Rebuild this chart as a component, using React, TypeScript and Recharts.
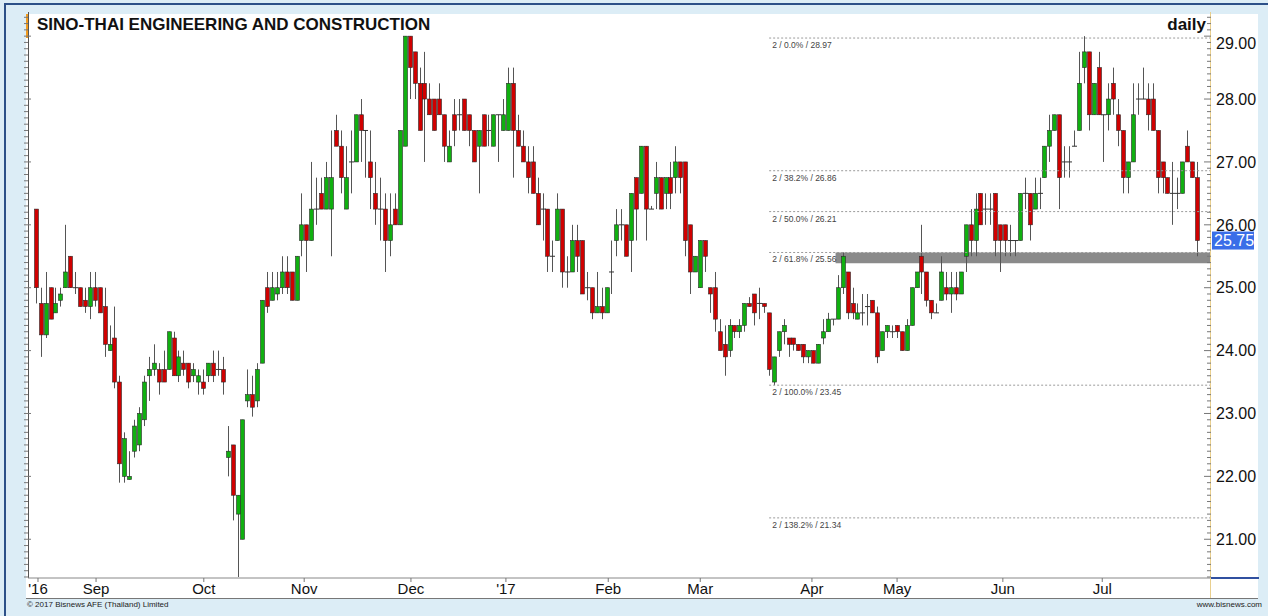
import React from "react";
import { Bar, ComposedChart, ReferenceArea, ReferenceLine, XAxis, YAxis } from "recharts";

// daily OHLC, mid-Aug 2016 .. late Jul 2017
const opens = [
  26.25, 24.75, 24.25, 25.0, 24.6, 24.8, 25.0, 25.5, 25.0, 25.0, 24.8, 24.7, 25.0, 25.0, 24.7, 24.0, 24.2, 23.5, 22.0, 21.95,
  22.4, 22.5, 22.9, 23.6, 23.7, 23.7, 23.7, 23.7, 24.2, 23.6, 23.8, 23.8, 23.6, 23.5, 23.5, 23.6, 23.8, 23.7, 23.7, 22.3,
  22.5, 21.4, 21.0, 23.2, 23.3, 23.2, 23.8, 25.0, 24.8, 24.9, 25.0, 25.25, 25.25, 24.8, 25.75, 26.0, 25.75, 26.25, 26.5, 26.25,
  26.25, 27.5, 27.25, 26.25, 27.0, 27.0, 27.75, 27.5, 27.0, 26.5, 26.25, 26.25, 25.75, 26.25, 26.0, 27.25, 29.0, 28.75, 28.25, 28.25,
  28.0, 28.0, 28.0, 27.75, 27.0, 27.75, 27.75, 28.0, 27.75, 27.5, 27.25, 27.75, 27.5, 27.25, 27.75, 27.5, 27.5, 28.25, 27.5, 27.25,
  27.0, 27.0, 26.5, 26.25, 26.25, 25.5, 25.75, 26.25, 25.25, 25.25, 25.75, 25.75, 25.0, 25.0, 24.6, 24.7, 24.6, 25.25, 25.75, 26.0,
  26.0, 25.75, 26.75, 26.5, 27.25, 26.25, 26.5, 26.75, 26.5, 26.75, 26.75, 27.0, 27.0, 26.0, 25.25, 25.0, 25.75, 25.0, 25.0, 24.3,
  24.1, 24.0, 24.4, 24.3, 24.4, 24.75, 24.9, 24.75, 24.75, 24.6, 23.5, 24.0, 24.3, 24.2, 24.2, 24.1, 24.1, 23.9, 24.0, 23.8,
  24.2, 24.3, 24.5, 24.5, 25.0, 25.25, 24.75, 24.5, 24.6, 24.7, 24.8, 24.6, 24.0, 24.3, 24.3, 24.4, 24.3, 24.0, 24.4, 25.0,
  25.5, 25.25, 24.8, 24.6, 24.8, 25.0, 24.9, 25.0, 24.9, 25.5, 26.0, 25.75, 26.5, 26.25, 26.25, 26.5, 26.0, 26.0, 25.75, 25.75,
  25.75, 26.5, 26.5, 26.25, 26.5, 26.75, 27.25, 27.5, 27.75, 27.0, 27.0, 27.25, 27.5, 28.5, 28.75, 27.75, 28.5, 27.75, 27.75, 28.25,
  27.75, 27.5, 26.75, 27.0, 28.0, 28.0, 28.0, 28.0, 27.5, 27.0, 26.75, 26.5, 26.5, 26.5, 27.25, 27.0, 26.75,
];
const highs = [
  26.25, 25.0, 25.25, 25.0, 25.0, 25.0, 26.0, 25.5, 25.25, 25.0, 25.0, 25.25, 25.25, 25.0, 25.0, 24.4, 24.7, 23.6, 22.7, 22.4,
  22.9, 23.1, 23.6, 23.9, 24.1, 23.8, 24.0, 24.3, 24.3, 24.0, 24.0, 23.8, 23.8, 23.7, 23.7, 23.8, 24.0, 24.0, 23.9, 22.8,
  22.5, 21.7, 22.9, 23.7, 23.6, 23.8, 24.8, 25.25, 25.25, 25.25, 25.5, 25.5, 25.25, 25.5, 26.5, 26.0, 27.0, 26.75, 26.75, 27.0,
  27.5, 27.75, 27.5, 27.25, 27.5, 27.75, 28.0, 27.5, 27.5, 27.0, 26.75, 26.5, 26.5, 26.5, 27.5, 29.0, 29.0, 28.75, 28.5, 28.75,
  28.25, 28.0, 28.25, 27.75, 27.5, 28.0, 28.0, 28.0, 27.75, 27.5, 27.5, 27.75, 27.75, 27.75, 27.75, 28.0, 28.5, 28.5, 27.75, 27.5,
  27.25, 27.25, 26.75, 26.5, 26.25, 25.75, 26.5, 26.25, 25.5, 26.0, 26.0, 25.75, 25.25, 25.0, 25.25, 25.0, 25.0, 25.75, 26.25, 26.25,
  26.0, 26.5, 26.75, 27.25, 27.25, 26.3, 27.0, 26.75, 26.75, 27.0, 27.25, 27.0, 27.0, 26.0, 25.5, 25.75, 25.75, 25.0, 25.25, 24.5,
  24.4, 24.5, 24.4, 24.5, 24.75, 24.85, 24.9, 25.0, 24.75, 24.6, 23.9, 24.3, 24.5, 24.2, 24.2, 24.1, 24.1, 24.0, 24.0, 24.1,
  24.5, 24.6, 24.5, 25.2, 25.56, 25.25, 25.0, 24.75, 24.9, 24.9, 24.8, 24.7, 24.3, 24.4, 24.4, 24.4, 24.3, 24.5, 25.0, 25.25,
  26.0, 25.25, 24.8, 24.75, 25.5, 25.25, 25.25, 25.25, 25.25, 26.0, 26.25, 26.5, 26.5, 26.5, 26.5, 26.5, 26.0, 26.0, 26.0, 25.75,
  26.5, 26.75, 26.5, 26.75, 26.75, 27.25, 27.75, 27.75, 27.75, 27.25, 27.25, 27.5, 28.75, 29.0, 28.75, 28.25, 28.75, 27.75, 28.25, 28.5,
  28.0, 27.5, 27.0, 28.25, 28.25, 28.5, 28.25, 28.25, 27.5, 27.0, 26.75, 27.0, 26.75, 27.0, 27.5, 27.0, 27.0,
];
const lows = [
  24.75, 23.9, 24.2, 24.5, 24.6, 24.7, 25.0, 25.0, 24.9, 24.7, 24.6, 24.5, 24.7, 24.6, 23.9, 24.0, 23.4, 21.9, 21.9, 21.95,
  22.3, 22.4, 22.8, 23.2, 23.6, 23.3, 23.5, 23.7, 23.6, 23.5, 23.6, 23.4, 23.5, 23.3, 23.3, 23.5, 23.5, 23.6, 23.3, 22.0,
  21.3, 20.4, 21.0, 23.1, 22.95, 23.1, 23.8, 24.6, 24.8, 24.8, 24.9, 24.9, 24.8, 24.8, 25.5, 25.25, 25.75, 26.0, 26.25, 26.25,
  25.5, 27.25, 26.5, 26.25, 26.5, 27.0, 27.0, 26.75, 26.25, 26.0, 25.75, 25.25, 25.5, 26.0, 26.0, 27.25, 28.0, 28.0, 27.5, 27.0,
  27.75, 27.5, 27.75, 27.0, 27.0, 27.25, 27.5, 27.5, 27.25, 27.0, 26.5, 27.25, 27.25, 27.25, 27.0, 27.5, 27.5, 26.75, 27.25, 27.0,
  26.5, 26.5, 26.0, 25.75, 25.25, 25.25, 25.75, 25.0, 25.0, 25.25, 25.25, 24.9, 24.8, 24.5, 24.6, 24.5, 24.6, 24.9, 25.5, 25.75,
  25.5, 25.25, 25.75, 26.5, 25.75, 26.25, 26.25, 26.25, 26.25, 26.25, 26.5, 26.5, 25.5, 24.9, 25.25, 25.0, 25.25, 24.6, 24.3, 24.0,
  23.6, 23.9, 24.2, 24.2, 24.3, 24.7, 24.4, 24.5, 24.6, 23.6, 23.45, 23.9, 24.1, 23.9, 24.0, 24.0, 23.8, 23.8, 23.8, 23.8,
  24.1, 24.3, 24.4, 24.5, 24.9, 24.5, 24.5, 24.5, 24.4, 24.4, 24.6, 23.8, 24.0, 24.2, 24.2, 24.2, 24.0, 24.0, 24.4, 25.0,
  24.9, 24.7, 24.5, 24.6, 24.8, 24.8, 24.6, 24.8, 24.9, 25.25, 25.5, 25.5, 26.0, 26.0, 26.0, 25.5, 25.25, 25.5, 25.5, 25.5,
  25.75, 26.25, 25.75, 26.25, 26.25, 26.75, 27.0, 27.5, 26.25, 26.75, 26.75, 27.25, 27.5, 28.25, 27.5, 27.75, 27.75, 27.0, 27.5, 27.75,
  27.25, 26.5, 26.5, 27.0, 27.75, 28.0, 27.5, 27.5, 26.5, 26.5, 26.5, 26.0, 26.25, 26.5, 27.0, 26.75, 25.5,
];
const closes = [
  25.0, 24.25, 24.75, 24.5, 24.75, 24.9, 25.25, 25.0, 25.0, 24.7, 24.7, 25.0, 24.8, 24.6, 24.1, 24.1, 23.5, 22.2, 22.6, 22.0,
  22.8, 23.0, 23.5, 23.7, 23.8, 23.5, 23.5, 24.3, 23.6, 23.9, 23.7, 23.5, 23.7, 23.6, 23.4, 23.8, 23.6, 23.7, 23.5, 22.4,
  21.7, 21.7, 22.9, 23.3, 23.1, 23.7, 24.8, 24.7, 25.0, 25.0, 25.25, 25.0, 24.8, 25.5, 26.0, 25.75, 26.25, 26.25, 26.25, 26.75,
  26.75, 27.25, 26.75, 26.75, 27.0, 27.75, 27.5, 27.5, 26.75, 26.25, 26.25, 25.75, 26.0, 26.0, 27.5, 29.0, 28.5, 28.25, 27.5, 28.0,
  27.75, 27.5, 27.75, 27.25, 27.25, 27.5, 27.75, 27.5, 27.5, 27.0, 27.5, 27.25, 27.5, 27.75, 27.75, 27.75, 28.25, 27.5, 27.25, 27.0,
  26.75, 26.5, 26.0, 26.25, 25.5, 25.5, 26.25, 25.25, 25.25, 25.75, 25.5, 24.9, 25.0, 24.6, 24.7, 24.6, 25.0, 25.25, 26.0, 26.0,
  25.5, 26.5, 26.25, 27.25, 26.25, 26.25, 26.75, 26.25, 26.75, 26.5, 27.0, 26.75, 25.75, 25.25, 25.5, 25.75, 25.5, 24.9, 24.5, 24.0,
  23.9, 24.4, 24.3, 24.4, 24.75, 24.7, 24.6, 24.75, 24.7, 23.7, 23.9, 24.3, 24.4, 24.1, 24.1, 24.0, 23.9, 24.0, 23.8, 24.1,
  24.3, 24.5, 24.5, 25.0, 25.5, 24.6, 24.6, 24.6, 24.6, 24.7, 24.6, 23.9, 24.3, 24.4, 24.3, 24.3, 24.0, 24.4, 25.0, 25.25,
  25.25, 24.8, 24.6, 24.6, 25.25, 24.9, 25.0, 24.9, 25.25, 26.0, 25.75, 26.25, 26.0, 26.25, 26.25, 25.75, 25.75, 25.75, 25.75, 25.75,
  26.5, 26.5, 26.0, 26.5, 26.5, 27.25, 27.5, 27.75, 26.75, 27.0, 27.0, 27.25, 28.25, 28.75, 27.75, 28.25, 27.75, 27.75, 28.0, 28.0,
  27.5, 26.75, 27.0, 27.75, 28.0, 28.0, 27.75, 27.5, 26.75, 26.75, 26.5, 26.5, 26.5, 27.0, 27.0, 26.75, 25.75,
];

// month marks (position in trading days) and their labels
const monthTicks = [0.4, 12.2, 34.1, 54.5, 76.2, 95.5, 116.3, 135, 157.7, 175, 196.5, 216.7];
const monthLabels = ["'16", "Sep", "Oct", "Nov", "Dec", "'17", "Feb", "Mar", "Apr", "May", "Jun", "Jul"];

const priceLabels = [21, 22, 23, 24, 25, 26, 27, 28, 29];

// fibonacci retracement drawn from the March low to the June high
const fibStart = 149;
const fibLevels = [28.97, 26.86, 26.21, 25.56, 23.45, 21.34];
const fibLabels = [
  "2 / 0.0% / 28.97",
  "2 / 38.2% / 26.86",
  "2 / 50.0% / 26.21",
  "2 / 61.8% / 25.56",
  "2 / 100.0% / 23.45",
  "2 / 138.2% / 21.34",
];
const supportBand = { from: 162.5, low: 25.39, high: 25.56 };

const lastPrice = 25.75;

const X_MIN = -1.63;
const X_MAX = 238.6;
const Y_MIN = 20.384;
const Y_MAX = 29.384;

const FONT = "Arial, 'Liberation Sans', sans-serif";

const rows = opens.map((o, i) => ({
  i,
  o,
  h: highs[i],
  l: lows[i],
  c: closes[i],
  range: [lows[i], highs[i]],
}));

const allTicks: number[] = [];
for (let k = 204; k <= 293; k++) allTicks.push(k / 10);

function Candle(props: any) {
  const { x, y, width, height, payload } = props;
  if (!payload || x == null) return null;
  const { o, h, l, c } = payload;
  const cx = Math.round(x + width / 2) + 0.5;
  const span = h - l;
  const py = (v: number) => (span > 0 ? y + ((h - v) / span) * height : y);
  const up = c > o;
  const top = py(Math.max(o, c));
  const bot = py(Math.min(o, c));
  return (
    <g>
      <line x1={cx} x2={cx} y1={py(h)} y2={py(l)} stroke="#555" strokeWidth={1} />
      {o === c ? (
        <line x1={cx - 2.5} x2={cx + 2.5} y1={top} y2={top} stroke="#333" strokeWidth={1} />
      ) : (
        <rect
          x={cx - 2}
          y={top}
          width={4}
          height={Math.max(bot - top, 1)}
          fill={up ? "#10b010" : "#d00000"}
          stroke="#2a2a2a"
          strokeWidth={0.6}
        />
      )}
    </g>
  );
}

function PriceTick(props: any) {
  const { y, payload } = props;
  const v = payload.value;
  const major = priceLabels.some((p) => Math.abs(p - v) < 1e-6);
  return (
    <g>
      <line x1={major ? 1204 : 1207} x2={1211} y1={y} y2={y} stroke="#777" strokeWidth={1} />
      <line x1={24} x2={major ? 31 : 28} y1={y} y2={y} stroke="#777" strokeWidth={1} />
      {major ? (
        <text x={1216} y={v === 29 ? y + 7 : y} dy="0.36em" fontSize={16} fontFamily={FONT} fill="#111">
          {v.toFixed(2)}
        </text>
      ) : null}
    </g>
  );
}

function MonthTick(props: any) {
  const { x, payload } = props;
  const k = monthTicks.indexOf(payload.value);
  return (
    <g>
      <line x1={x} x2={x} y1={578} y2={582} stroke="#777" />
      <text x={x} y={594} textAnchor="middle" fontSize={15} fontFamily={FONT} fill="#111">
        {monthLabels[k]}
      </text>
    </g>
  );
}

function fibLabel(text: string) {
  return (p: any) => {
    const vb = p.viewBox || {};
    return (
      <text x={(vb.x ?? 769) + 3} y={(vb.y ?? 0) + 10} fontSize={8.5} fontFamily={FONT} fill="#444">
        {text}
      </text>
    );
  };
}

function LastLabel(p: any) {
  const vb = p.viewBox || {};
  const yy = vb.y ?? 240;
  return (
    <g>
      <rect x={1212} y={yy - 9} width={42} height={18} fill="#3a6ee8" />
      <text x={1214} y={yy} dy="0.36em" fontSize={16} fontFamily={FONT} fill="#ffffff">
        {lastPrice.toFixed(2)}
      </text>
    </g>
  );
}

export default function App() {
  return (
    <div style={{ position: "absolute", left: 0, top: 0, width: 1268, height: 616, background: "#dcedf6", overflow: "hidden", fontFamily: FONT }}>
      <div style={{ position: "absolute", left: 4, top: 3, right: 0, bottom: 0, borderTop: "2px solid #2c5088", borderLeft: "2px solid #2c5088" }} />
      <div style={{ position: "absolute", left: 26, top: 14, width: 1232, height: 584, background: "#ffffff", borderBottom: "1px solid #777" }} />
      <div style={{ position: "absolute", left: 26, top: 14, width: 3, height: 24, background: "#f39c1e" }} />
      <div style={{ position: "absolute", left: 28, top: 12, width: 1, height: 566, background: "#555" }} />
      <div style={{ position: "absolute", left: 1210, top: 12, width: 1, height: 586, background: "#e9cf8e" }} />
      <div style={{ position: "absolute", left: 1211, top: 577, width: 48, height: 2, background: "#3050a0" }} />
      <div style={{ position: "absolute", left: 37, top: 15, fontSize: 17, fontWeight: 700, color: "#111", whiteSpace: "nowrap" }}>
        SINO-THAI ENGINEERING AND CONSTRUCTION
      </div>
      <div style={{ position: "absolute", right: 1268 - 1206, top: 15, fontSize: 17, fontWeight: 700, color: "#111" }}>daily</div>
      <div style={{ position: "absolute", left: 27, top: 600, fontSize: 8, color: "#222", whiteSpace: "nowrap" }}>
        © 2017 Bisnews AFE (Thailand) Limited
      </div>
      <div style={{ position: "absolute", right: 6, top: 600, fontSize: 8, color: "#222" }}>www.bisnews.com</div>
      <div style={{ position: "absolute", left: 0, top: 0 }}>
        <ComposedChart width={1268} height={616} data={rows} margin={{ top: 12, right: 10, bottom: 18, left: 28 }}>
          <XAxis
            dataKey="i"
            type="number"
            domain={[X_MIN, X_MAX]}
            allowDataOverflow
            ticks={monthTicks}
            interval={0}
            tick={<MonthTick />}
            tickLine={false}
            axisLine={{ stroke: "#888" }}
            height={20}
          />
          <YAxis
            orientation="right"
            type="number"
            domain={[Y_MIN, Y_MAX]}
            allowDataOverflow
            ticks={allTicks}
            interval={0}
            tick={<PriceTick />}
            tickLine={false}
            axisLine={false}
            width={48}
          />
          <ReferenceArea
            x1={supportBand.from}
            x2={X_MAX}
            y1={supportBand.low}
            y2={supportBand.high}
            fill="#8a8a8a"
            fillOpacity={1}
            stroke="none"
            ifOverflow="hidden"
          />
          {fibLevels.map((lv, k) => (
            <ReferenceLine
              key={lv}
              segment={[
                { x: fibStart, y: lv },
                { x: X_MAX, y: lv },
              ]}
              stroke="#9a9a9a"
              strokeDasharray="2 2"
              strokeWidth={1}
              label={fibLabel(fibLabels[k])}
            />
          ))}
          <ReferenceLine y={lastPrice} stroke="none" label={LastLabel} />
          <Bar dataKey="range" barSize={5} shape={<Candle />} isAnimationActive={false} />
        </ComposedChart>
      </div>
    </div>
  );
}
